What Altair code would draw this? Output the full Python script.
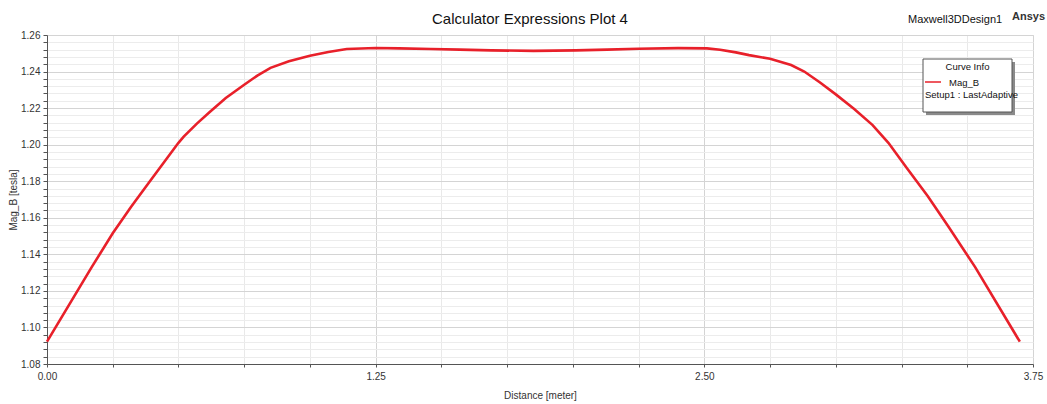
import altair as alt
import pandas as pd

# Curve data
dist = [0.00, 0.17, 0.25, 0.32, 0.39, 0.50, 0.52, 0.57, 0.62, 0.68, 0.75, 0.80,
        0.85, 0.92, 1.00, 1.07, 1.14, 1.25,
        1.34, 1.46, 1.57, 1.69, 1.85, 2.01, 2.13, 2.25, 2.40, 2.51, 2.56, 2.62,
        2.67, 2.75, 2.83, 2.88, 2.94, 3.00, 3.07, 3.14, 3.20, 3.27, 3.35, 3.43,
        3.53, 3.70]
magb = [1.0922, 1.1330, 1.1515, 1.1660, 1.1797, 1.2010, 1.2044, 1.2115, 1.2180,
        1.2255, 1.2328, 1.2378, 1.2420, 1.2456, 1.2486, 1.2507, 1.2523, 1.2529,
        1.2527, 1.2523, 1.2520, 1.2516, 1.2513, 1.2516, 1.2520, 1.2525, 1.2528,
        1.2527, 1.2519, 1.2505, 1.2490, 1.2470, 1.2436, 1.2400, 1.2340, 1.2275,
        1.2195, 1.2107, 1.2010, 1.1872, 1.1718, 1.1548, 1.1330, 1.0922]

x_ticks = [0.0, 0.25, 0.5, 0.75, 1.0, 1.25, 1.5, 1.75, 2.0, 2.25, 2.5, 2.75,
           3.0, 3.25, 3.5, 3.75]
y_ticks = [round(1.08 + 0.004 * i, 3) for i in range(46)]

title_text = "Calculator Expressions Plot 4"
design_text = "Maxwell3DDesign1"
brand_text = "Ansys"
legend_title = "Curve Info"
series_name = "Mag_B"
setup_name = "Setup1 : LastAdaptive"

W, H = 986, 329
FONT = "Liberation Sans"
RED = "#e8202a"

df = pd.DataFrame({"dist": dist, "magb": magb})

x_major = "abs(datum.value/1.25 - round(datum.value/1.25)) < 0.001"
y_major = "abs(datum.value*50 - round(datum.value*50)) < 0.001"

line = alt.Chart(df).mark_line(color=RED, strokeWidth=2.6).encode(
    x=alt.X("dist:Q",
            scale=alt.Scale(domain=[0, 3.75], nice=False, zero=False),
            axis=alt.Axis(values=x_ticks, title="Distance [meter]",
                          labelExpr=f"{x_major} ? format(datum.value, '.2f') : ''",
                          labelOverlap=False, labelFlush=False,
                          labelFont=FONT, labelFontSize=10, labelColor="#333333",
                          labelPadding=4, tickSize=3, tickColor="#555555",
                          domainColor="#555555",
                          gridColor={"condition": {"test": x_major, "value": "#d4d4d4"},
                                     "value": "#e9e9e9"},
                          titleFont=FONT, titleFontSize=10, titleFontWeight="normal",
                          titleColor="#333333", titleX=493, titleY=31,
                          titleBaseline="middle", titleAlign="center")),
    y=alt.Y("magb:Q",
            scale=alt.Scale(domain=[1.08, 1.26], nice=False, zero=False),
            axis=alt.Axis(values=y_ticks, title="Mag_B [tesla]",
                          labelExpr=f"{y_major} ? format(datum.value, '.2f') : ''",
                          labelOverlap=False, labelFlush=False,
                          labelFont=FONT, labelFontSize=10, labelColor="#333333",
                          labelPadding=3, tickSize=4, tickColor="#555555",
                          domainColor="#555555",
                          gridColor={"condition": {"test": y_major, "value": "#d4d4d4"},
                                     "value": "#ececec"},
                          titleFont=FONT, titleFontSize=10, titleFontWeight="normal",
                          titleColor="#333333", titleX=-34, titleY=164.5,
                          titleAngle=270, titleBaseline="middle", titleAlign="center")),
)


def text_layer(txt, x, y, size, weight="normal", align="center", color="#111111"):
    return alt.Chart(pd.DataFrame({"t": [txt]})).mark_text(
        font=FONT, fontSize=size, fontWeight=weight, align=align,
        baseline="middle", color=color
    ).encode(text="t:N", x=alt.value(x), y=alt.value(y))


ox, oy = 47, 35  # plot origin on the page

title = text_layer(title_text, 530 - ox, 19 - oy, 15)
design = text_layer(design_text, 908 - ox, 20 - oy, 11, align="left")
brand = text_layer(brand_text, 1012 - ox, 17 - oy, 11, weight="bold", align="left",
                   color="#333333")

box_df = pd.DataFrame({"k": [0]})
shadow = alt.Chart(box_df).mark_rect(color="#8a8a8a").encode(
    x=alt.value(926 - ox), x2=alt.value(1015 - ox),
    y=alt.value(62 - oy), y2=alt.value(115 - oy))
box = alt.Chart(box_df).mark_rect(fill="white", stroke="#555555", strokeWidth=1).encode(
    x=alt.value(923 - ox), x2=alt.value(1012 - ox),
    y=alt.value(59 - oy), y2=alt.value(112 - oy))
leg_line = alt.Chart(box_df).mark_rule(color=RED, strokeWidth=1.5).encode(
    x=alt.value(925 - ox), x2=alt.value(941 - ox), y=alt.value(82 - oy))
leg_title = text_layer(legend_title, 967.5 - ox, 67 - oy, 9.5)
leg_name = text_layer(series_name, 949 - ox, 83 - oy, 9.5, align="left")
leg_setup = text_layer(setup_name, 925 - ox, 94.5 - oy, 9.5, align="left")

chart = alt.layer(
    line, title, design, brand, shadow, box, leg_line, leg_title, leg_name, leg_setup
).properties(
    width=W, height=H,
    autosize=alt.AutoSizeParams(type="none"),
    padding={"left": 47, "top": 35, "right": 14, "bottom": 40},
).configure_view(
    stroke="#a8a8a8", strokeWidth=1
).configure(background="white")

chart.save("out.html", embed_options={"renderer": "svg", "actions": False})
